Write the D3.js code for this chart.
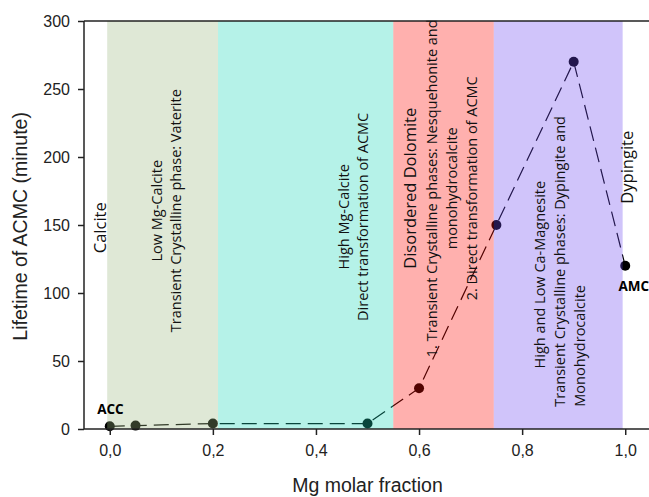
<!DOCTYPE html>
<html>
<head>
<meta charset="utf-8">
<title>Lifetime of ACMC vs Mg molar fraction</title>
<style>
  body { margin: 0; background: #fff; }
  svg { display: block; }
  .tick text { font-family: Arial, "Liberation Sans", sans-serif; font-size: 16px; fill: #222; }
  .band-label { font-family: "Open Sans", sans-serif; fill: #111; }
</style>
</head>
<body>
<script src="https://d3js.org/d3.v7.min.js"></script>
<script>
// data
var mgFraction = [0.0, 0.05, 0.2, 0.5, 0.6, 0.75, 0.9, 1.0];
var lifetime   = [2, 2.5, 4, 4, 30, 150, 270, 120];

var bandStarts = [-0.005, 0.21, 0.55, 0.745];
var bandEnds   = [0.21, 0.55, 0.745, 0.995];
var bandColors = ["rgba(155,183,127,0.32)", "rgba(24,214,183,0.32)",
                  "rgba(255,8,2,0.32)", "rgba(108,71,239,0.32)"];

var xTicks = [0, 0.2, 0.4, 0.6, 0.8, 1.0];
var yTicks = [0, 50, 100, 150, 200, 250, 300];

var W = 649, H = 497;
var margin = {top: 21, right: -2, bottom: 68, left: 84};

var svg = d3.select("body").append("svg")
    .attr("width", W).attr("height", H);

var x = d3.scaleLinear().domain([-0.05, 1.05]).range([margin.left, W - margin.right]);
var y = d3.scaleLinear().domain([0, 300]).range([H - margin.bottom, margin.top]);

var comma = d3.formatLocale({decimal: ",", thousands: ".", grouping: [3], currency: ["", ""]});

var pts = mgFraction.map(function(m, i) { return {x: m, y: lifetime[i]}; });

// dashed line + markers (drawn under the translucent bands so they get tinted)
var line = d3.line().x(function(d) { return x(d.x); }).y(function(d) { return y(d.y); });
svg.append("path")
    .datum(pts)
    .attr("d", line)
    .attr("fill", "none")
    .attr("stroke", "#000")
    .attr("stroke-width", 1.2)
    .attr("stroke-dasharray", "15,7");

svg.selectAll("circle.pt")
    .data(pts)
  .enter().append("circle")
    .attr("class", "pt")
    .attr("cx", function(d) { return x(d.x); })
    .attr("cy", function(d) { return y(d.y); })
    .attr("r", 5)
    .attr("fill", "#000");

// coloured regions
svg.selectAll("rect.band")
    .data(bandStarts)
  .enter().append("rect")
    .attr("class", "band")
    .attr("x", function(d) { return x(d); })
    .attr("width", function(d, i) { return x(bandEnds[i]) - x(d); })
    .attr("y", y(300))
    .attr("height", y(0) - y(300))
    .attr("fill", function(d, i) { return bandColors[i]; });

// vertical region labels: [x of baseline, y of anchor, anchor, size, text]
var labels = [
  [-0.008, 148, "middle", 16.5, "Calcite"],
  [0.102, 160.5, "middle", 14.5, "Low Mg-Calcite"],
  [0.139, 160.5, "middle", 14.5, "Transient Crystalline phase: Vaterite"],
  [0.4645, 156, "middle", 14.5, "High Mg-Calcite"],
  [0.5005, 156, "middle", 14.5, "Direct transformation of ACMC"],
  [0.5946, 177, "middle", 16.5, "Disordered Dolomite"],
  [0.6353, 177, "middle", 14.5, "1. Transient Crystalline phases: Nesquehonite and"],
  [0.6741, 177, "middle", 14.5, "monohydrocalcite"],
  [0.7129, 177, "middle", 14.5, "2. Direct transformation of ACMC"],
  [0.8448, 113.5, "middle", 14.5, "High and Low Ca-Magnesite"],
  [0.8836, 16.4, "start", 14.5, "Transient Crystalline phases: Dypingite and"],
  [0.9224, 16.4, "start", 14.5, "Monohydrocalcite"],
  [1.0155, 192.5, "middle", 16.5, "Dypingite"]
];

svg.selectAll("text.band-label")
    .data(labels)
  .enter().append("text")
    .attr("class", "band-label")
    .attr("transform", function(d) { return "translate(" + x(d[0]) + "," + y(d[1]) + ") rotate(-90)"; })
    .attr("text-anchor", function(d) { return d[2]; })
    .style("font-size", function(d) { return d[3] + "px"; })
    .text(function(d) { return d[4]; });

// point annotations
svg.append("text")
    .attr("x", x(-0.0245)).attr("y", y(11))
    .attr("font-family", "'Open Sans', sans-serif")
    .attr("font-weight", "bold").attr("font-size", 13.5)
    .text("ACC");
svg.append("text")
    .attr("x", x(0.987)).attr("y", y(101.5))
    .attr("font-family", "'Open Sans', sans-serif")
    .attr("font-weight", "bold").attr("font-size", 13.5)
    .text("AMC");

// axes
var xAxis = svg.append("g")
    .attr("transform", "translate(0," + y(0) + ")")
    .call(d3.axisBottom(x).tickValues(xTicks).tickSize(6).tickPadding(10)
      .tickFormat(comma.format(".1f")));
var yAxis = svg.append("g")
    .attr("transform", "translate(" + x(-0.05) + ",0)")
    .call(d3.axisLeft(y).tickValues(yTicks).tickSize(6).tickPadding(8));

[xAxis, yAxis].forEach(function(g) {
  g.select(".domain").attr("stroke", "#222").attr("stroke-width", 1.5);
  g.selectAll(".tick line").attr("stroke", "#222").attr("stroke-width", 1.5);
  g.selectAll(".tick text").attr("font-family", null).attr("font-size", null);
});
xAxis.select(".domain").attr("d", "M" + x(-0.05) + ",0H" + x(1.05));
yAxis.select(".domain").attr("d", "M0," + y(0) + "V" + y(300));

// top frame line
svg.append("line")
    .attr("x1", x(-0.05)).attr("x2", x(1.05))
    .attr("y1", y(300)).attr("y2", y(300))
    .attr("stroke", "#222").attr("stroke-width", 1.5);

// axis titles
svg.append("text")
    .attr("x", x(0.5)).attr("y", 492)
    .attr("text-anchor", "middle")
    .attr("font-family", "Arial, 'Liberation Sans', sans-serif")
    .attr("font-size", 19.5).attr("fill", "#222")
    .text("Mg molar fraction");
svg.append("text")
    .attr("transform", "translate(27," + y(149) + ") rotate(-90)")
    .attr("text-anchor", "middle")
    .attr("font-family", "Arial, 'Liberation Sans', sans-serif")
    .attr("font-size", 19.5).attr("fill", "#222")
    .text("Lifetime of ACMC (minute)");
</script>
</body>
</html>
